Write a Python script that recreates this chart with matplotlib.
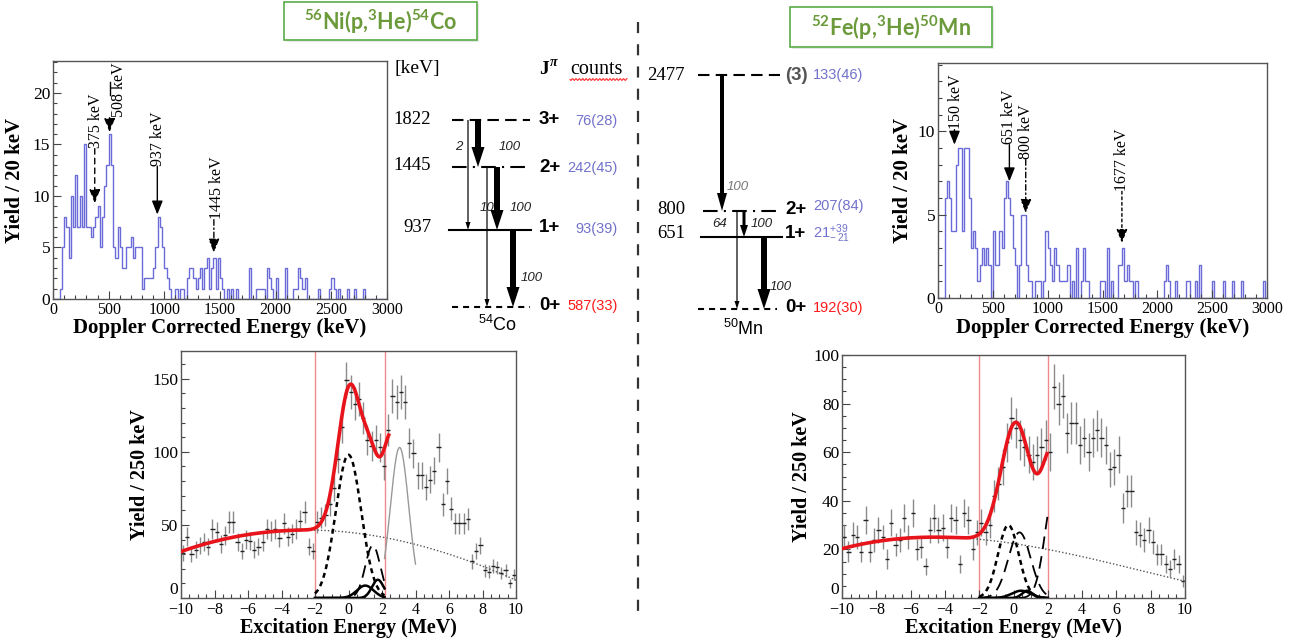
import numpy as np
import matplotlib
matplotlib.use("Agg")
import matplotlib.pyplot as plt
from matplotlib.patches import FancyArrow, Rectangle
from matplotlib.ticker import MultipleLocator

# ---------------- data ----------------
GAMMA_BIN_KEV = 20
# 56Ni(p,3He)54Co : Doppler corrected gamma spectrum, 20 keV bins from 0 keV
co_gamma_counts = [
    0, 0, 0, 1, 5, 8, 7, 4, 10, 7,
    12, 7, 10, 7, 15, 7, 7, 6, 7, 8,
    9, 5, 8, 11, 13, 16, 13, 5, 4, 7,
    5, 3, 3, 5, 5, 6, 4, 5, 5, 5,
    1, 2, 2, 2, 2, 3, 5, 8, 7, 5,
    3, 2, 1, 0, 0, 1, 0, 1, 1, 0,
    2, 3, 3, 2, 1, 2, 3, 1, 3, 4,
    1, 3, 4, 1, 4, 2, 1, 0, 1, 0,
    1, 0, 1, 0, 0, 0, 0, 0, 3, 0,
    0, 1, 1, 1, 1, 0, 3, 2, 1, 0,
    2, 0, 0, 0, 3, 0, 0, 0, 1, 1,
    3, 2, 1, 2, 0, 0, 0, 0, 0, 1,
    0, 0, 0, 0, 1, 2, 1, 0, 1, 0,
    0, 0, 1, 0, 0, 1, 0, 0, 0, 1,
    0, 0, 0, 0, 0, 0, 0, 0, 0, 0,
]
# 52Fe(p,3He)50Mn : Doppler corrected gamma spectrum
mn_gamma_counts = [
    0, 0, 0, 6, 7, 6, 4, 4, 8, 9,
    9, 4, 9, 9, 6, 3, 4, 3, 1, 2,
    3, 2, 3, 2, 0, 4, 2, 2, 4, 3,
    6, 7, 6, 5, 3, 2, 0, 2, 5, 5,
    2, 1, 1, 0, 1, 1, 1, 0, 1, 4,
    3, 2, 1, 3, 2, 1, 1, 1, 1, 2,
    0, 1, 0, 3, 0, 1, 3, 1, 1, 0,
    0, 0, 0, 0, 1, 1, 0, 3, 0, 1,
    0, 0, 2, 2, 3, 1, 2, 1, 1, 0,
    1, 0, 0, 0, 0, 0, 0, 0, 0, 0,
    0, 0, 0, 1, 2, 1, 0, 0, 1, 0,
    0, 0, 0, 1, 1, 0, 0, 1, 0, 2,
    0, 0, 0, 0, 0, 1, 0, 0, 0, 0,
    1, 0, 0, 0, 1, 0, 0, 0, 1, 0,
    0, 0, 0, 0, 0, 0, 0, 0, 1, 0,
]
co_gamma_lines = [375, 508, 937, 1445]
co_gamma_labels = ["375 keV", "508 keV", "937 keV", "1445 keV"]
mn_gamma_lines = [150, 651, 800, 1677]
mn_gamma_labels = ["150 keV", "651 keV", "800 keV", "1677 keV"]

# Excitation energy spectra, 250 keV bins from -10 MeV to +10 MeV
EX_BIN_MEV = 0.25
co_ex_counts = [
    31, 42, 30, 33, 36, 38, 35, 47, 45, 37,
    43, 52, 52, 38, 32, 40, 39, 33, 35, 38,
    47, 46, 47, 41, 51, 42, 44, 47, 53, 59,
    35, 32, 52, 55, 57, 64, 75, 95, 117, 149,
    141, 133, 136, 123, 108, 104, 108, 103, 90, 115,
    138, 134, 141, 134, 106, 99, 84, 84, 76, 81,
    87, 103, 64, 80, 61, 51, 51, 51, 54, 25,
    32, 36, 19, 18, 22, 21, 17, 19, 10, 16,
]
mn_ex_counts = [
    25, 19, 26, 25, 19, 32, 19, 24, 28, 25,
    16, 31, 22, 24, 33, 25, 35, 20, 21, 13,
    28, 33, 28, 29, 21, 33, 32, 14, 35, 32,
    20, 27, 31, 27, 30, 42, 47, 54, 64, 74,
    70, 65, 62, 59, 56, 59, 62, 65, 60, 87,
    80, 83, 68, 72, 72, 63, 66, 60, 66, 69,
    66, 63, 53, 54, 59, 37, 44, 44, 27, 26,
    24, 28, 23, 18, 18, 14, 12, 16, 14, 7,
]
# fit model: background knots (MeV, counts)
co_bg_knots_x = [-10, -8, -6, -4, -2, 0, 2, 4, 6, 8, 10]
co_bg_knots_y = [32, 38.5, 43, 46, 47, 45.5, 41, 36, 30.5, 22, 12]
mn_bg_knots_x = [-10, -8, -6, -4, -2, 0, 2, 4, 6, 8, 10]
mn_bg_knots_y = [20.5, 23, 24.5, 25, 24.5, 22.5, 20, 17, 13.5, 10.3, 7]
# gaussian terms (centre MeV, amplitude, sigma MeV)
co_total_peaks = [(0.1, 100, 0.72), (1.4, 40, 0.5), (2.6, 70, 0.5)]
mn_total_peaks = [(0.15, 50, 0.86), (2.3, 40, 0.6)]
co_components = [("short", 0.0, 98, 0.76), ("long", 1.45, 36, 0.45),
                 ("solid", 1.0, 8.5, 0.5), ("solid", 1.75, 12.5, 0.35)]
co_gray_peak = (3.05, 103, 0.55)
mn_components = [("short", -0.3, 30, 0.6), ("long", 0.35, 27, 0.65),
                 ("long", 2.4, 45, 0.55), ("solid", 0.45, 3.0, 0.55),
                 ("solid", 0.8, 3.0, 0.3)]

# Level schemes
co_levels = [1822, 1445, 937, 0]
co_spins = ["3+", "2+", "1+", "0+"]
co_counts = ["76(28)", "242(45)", "93(39)", "587(33)"]
co_transitions = [(1822, 1445, "100"), (1822, 937, "2"), (1445, 937, "100"),
                  (1445, 0, "10"), (937, 0, "100")]
mn_levels = [2477, 800, 651, 0]
mn_spins = ["(3)", "2+", "1+", "0+"]
mn_counts = ["133(46)", "207(84)", r"$\mathregular{21^{+39}_{-\,21}}$", "192(30)"]
mn_transitions = [(2477, 800, "100"), (800, 651, "100"), (800, 0, "64"), (651, 0, "100")]

# ---------------- figure ----------------
W, H = 1294, 643
plt.rcParams["font.family"] = ["Liberation Serif", "DejaVu Serif"]
SANS = ["Liberation Sans", "DejaVu Sans"]
fig = plt.figure(figsize=(W / 100, H / 100), dpi=100)
fig.patch.set_facecolor("white")


def add_ax(x0, y0, x1, y1):
    return fig.add_axes([x0 / W, 1 - y1 / H, (x1 - x0) / W, (y1 - y0) / H])


def style(ax, xmaj, xmin, ymaj, ymin, xpad):
    for s in ax.spines.values():
        s.set_color("#555555")
        s.set_linewidth(1.0)
    ax.xaxis.set_major_locator(MultipleLocator(xmaj))
    ax.xaxis.set_minor_locator(MultipleLocator(xmin))
    ax.yaxis.set_major_locator(MultipleLocator(ymaj))
    ax.yaxis.set_minor_locator(MultipleLocator(ymin))
    ax.tick_params(which="both", direction="in", top=False, right=False,
                   color="#444444", width=0.8)
    ax.tick_params(which="major", length=6)
    ax.tick_params(which="minor", length=3)
    ax.tick_params(axis="x", labelsize=11.5, pad=xpad)
    ax.tick_params(axis="y", labelsize=12.5, pad=2)


def gauss(x, c, a, s):
    return a * np.exp(-0.5 * ((x - c) / s) ** 2)


def gamma_panel(box, counts, lines, labels, ymax, layout, headscale):
    ax = add_ax(*box)
    edges = np.arange(len(counts) + 1) * GAMMA_BIN_KEV
    ax.stairs(counts, edges, color="#6a6ad8", lw=1.0, baseline=0)
    ax.set_xlim(0, 3000)
    ax.set_ylim(0, ymax)
    style(ax, 500, 100, 5, 1, 2.5)
    ax.set_ylabel("Yield / 20 keV", fontsize=15, fontweight="bold")
    ax.set_xlabel("Doppler Corrected Energy (keV)", fontsize=15, fontweight="bold")
    for e, lab, (tip, top, ls, lx) in zip(lines, labels, layout):
        ax.annotate("", xy=(e, tip), xytext=(e, top),
                    arrowprops=dict(arrowstyle="-|>,head_length=0.55,head_width=0.22",
                                    mutation_scale=15, color="k", lw=1.0,
                                    linestyle=ls, shrinkA=0, shrinkB=0))
        ax.text(lx, top + 0.05 * headscale, lab, rotation=90, ha="center",
                va="bottom", fontsize=11.5)
    return ax


# (tip, shaft top, linestyle, label x)
co_ann = [(9.3, 14.6, (0, (4, 3)), 385), (16.2, 17.6, (0, (4, 3)), 590),
          (8.2, 12.9, "-", 947), (4.5, 7.7, (0, (4, 2, 1, 2)), 1470)]
mn_ann = [(9.2, 10.1, "-", 167), (7.0, 9.2, "-", 650),
          (5.1, 8.3, (0, (4, 2, 1, 2)), 805), (3.3, 6.4, (0, (2, 2)), 1677)]

ax1 = gamma_panel((53, 61, 387, 299), co_gamma_counts, co_gamma_lines,
                  co_gamma_labels, 23.1, co_ann, 1)
ax1.plot([508, 508], [19.8, 21.1], color="k", lw=1.0)
ax1.yaxis.set_label_coords(-0.084, 0.5)
ax1.xaxis.set_label_coords(0.5, -0.08)
ax2 = gamma_panel((938, 63, 1267, 298), mn_gamma_counts, mn_gamma_lines,
                  mn_gamma_labels, 14.1, mn_ann, 0.6)
ax2.yaxis.set_label_coords(-0.076, 0.5)
ax2.xaxis.set_label_coords(0.5, -0.083)


def ex_panel(box, counts, bgx, bgy, total, trange, comps, window, ymax, ymaj, ymin):
    ax = add_ax(*box)
    counts = np.asarray(counts, float)
    centers = -10 + EX_BIN_MEV * (np.arange(len(counts)) + 0.5)
    ax.errorbar(centers, counts, yerr=np.sqrt(counts), fmt="none",
                ecolor="#8a8a8a", elinewidth=1.0, zorder=2)
    ax.errorbar(centers, counts, xerr=EX_BIN_MEV / 2, fmt="none",
                ecolor="#222222", elinewidth=1.0, zorder=2)
    coef = np.polyfit(bgx, bgy, 3)
    xx = np.linspace(-10, 10, 600)
    ax.plot(xx, np.polyval(coef, xx), color="#555555", lw=1.0,
            linestyle=(0, (1, 1.5)), zorder=3)
    xt = np.linspace(trange[0], trange[1], 600)
    yt = np.polyval(coef, xt) + sum(gauss(xt, *p) for p in total)
    xc = np.linspace(window[0], window[1], 300)
    for kind, c, a, s in comps:
        if kind == "short":
            ax.plot(xc, gauss(xc, c, a, s), color="k", lw=1.8,
                    linestyle=(0, (2, 1.6)), zorder=4)
        elif kind == "long":
            ax.plot(xc, gauss(xc, c, a, s), color="k", lw=1.3,
                    linestyle=(0, (7, 4)), zorder=4)
        else:
            ax.plot(xc, gauss(xc, c, a, s), color="k", lw=1.8, zorder=4)
    ax.plot(xt, yt, color="#e8141b", lw=2.6, zorder=5)
    for w in window:
        ax.axvline(w, color="#f08a8a", lw=1.0, zorder=1)
    ax.set_xlim(-10, 10)
    ax.set_ylim(0, ymax)
    style(ax, 2, 0.5, ymaj, ymin, 3)
    ax.set_yticks(np.arange(0, ymax + 0.01, ymaj))
    ax.yaxis.get_major_ticks()[0].label1.set_verticalalignment("bottom")
    ax.set_ylabel("Yield / 250 keV", fontsize=14.5, fontweight="bold")
    ax.set_xlabel("Excitation Energy (MeV)", fontsize=14.5, fontweight="bold")
    return ax


ax3 = ex_panel((181, 351, 516, 598), co_ex_counts, co_bg_knots_x, co_bg_knots_y,
               co_total_peaks, (-10, 2.4), co_components, (-2, 2.15), 169, 50, 10)
xg = np.linspace(2.15, 4.0, 200)
ax3.plot(xg, gauss(xg, *co_gray_peak), color="#999999", lw=1.0, zorder=4)
ax3.yaxis.set_label_coords(-0.093, 0.5)
ax3.xaxis.set_label_coords(0.5, -0.08)
ax4 = ex_panel((842, 355, 1185, 598), mn_ex_counts, mn_bg_knots_x, mn_bg_knots_y,
               mn_total_peaks, (-10, 1.95), mn_components, (-2, 2.0), 100, 20, 5)
ax4.yaxis.set_label_coords(-0.087, 0.5)
ax4.xaxis.set_label_coords(0.5, -0.081)

# ---------------- overlay: titles, level schemes, divider ----------------
ov = fig.add_axes([0, 0, 1, 1])
ov.set_xlim(0, W)
ov.set_ylim(H, 0)
ov.set_axis_off()
ov.patch.set_alpha(0)

TITLE_GREEN = "#6b9a3b"
for (x0, y0, w, h), txt in [((284, 2, 193, 38), r"$\mathregular{^{56}Ni(p{,}^{3}He)^{54}Co}$"),
                            ((790, 7, 202, 40), r"$\mathregular{^{52}Fe(p{,}^{3}He)^{50}Mn}$")]:
    ov.add_patch(Rectangle((x0 + 2, y0 + 2), w, h, facecolor="#e8e8e8",
                           edgecolor="none", zorder=1))
    ov.add_patch(Rectangle((x0, y0), w, h, facecolor="white",
                           edgecolor="#5aac48", lw=1.2, zorder=2))
    ov.text(x0 + w / 2, y0 + h / 2 + 1, txt, ha="center", va="center", fontsize=15.5,
            fontweight="bold", family=["Lato", "Liberation Sans", "DejaVu Sans"],
            color=TITLE_GREEN, zorder=3)

ov.plot([638, 638], [22, 622], color="#333333", lw=1.6, dashes=(5, 5))

# layout of the level schemes (pixel positions)
ARROW = {"thick": (6, 13, 20), "medium": (3, 8, 12), "thin": (1.2, 5, 8),
         "heavy": (4, 10, 18)}
LS = {"long": (0, (5.5, 3)), "dashdot": (0, (7, 3, 1, 3)), "solid": "-",
      "short": (0, (2.9, 2.4))}


def level_scheme(levels, spins, counts, transitions, lay):
    for i, E in enumerate(levels):
        y = lay["y"][i]
        x0, x1 = lay["x"][i]
        ov.plot([x0, x1], [y, y], color="k", lw=1.5, linestyle=LS[lay["ls"][i]])
        if E > 0:
            ov.text(lay["ex"], lay["ey"][i], f"{E}", ha="right", va="center",
                    fontsize=13.5)
        ov.text(lay["sx"], lay["sy"][i], spins[i], ha="left", va="center",
                fontsize=13.5, fontweight="bold", family=SANS,
                color=lay["scol"][i])
        ov.text(lay["cx"], lay["cy"][i], counts[i], ha=lay["cha"], va="center",
                fontsize=10.5, family=SANS, color=lay["ccol"][i])
    for j, (a, b, lab) in enumerate(transitions):
        ya = lay["y"][levels.index(a)]
        yb = lay["y"][levels.index(b)]
        x = lay["tx"][j]
        w, hw, hl = ARROW[lay["tk"][j]]
        ov.add_patch(FancyArrow(x, ya, 0, yb - ya, width=w, head_width=hw,
                                head_length=hl, length_includes_head=True,
                                color="k", lw=0, zorder=4))
        lx, ly = lay["tl"][j]
        ov.text(lx, ly, lab, ha="center", va="center", fontsize=9.5,
                style="italic", family=SANS, color=lay["tcol"][j])


BLUE = "#7272cc"
co_lay = dict(y=[120, 167, 230, 307], x=[(452, 530), (452, 530), (449, 531), (452, 530)],
              ls=["long", "dashdot", "solid", "short"], ex=431, ey=[120, 166, 227, 307],
              sx=539, sy=[120, 167, 228, 306], scol=["k"] * 4,
              cx=618, cy=[121, 168, 229, 306], cha="right",
              ccol=[BLUE, BLUE, BLUE, "#ff1a1a"],
              tx=[478, 468, 497, 487, 513], tk=["thick", "thin", "thick", "thin", "thick"],
              tl=[(510, 147), (459, 147), (521, 208), (487, 208), (532, 278)],
              tcol=["#222222"] * 5)
level_scheme(co_levels, co_spins, co_counts, co_transitions, co_lay)

mn_lay = dict(y=[75, 211, 237, 309], x=[(698, 780), (703, 778), (701, 782), (698, 777)],
              ls=["long", "dashdot", "solid", "short"], ex=685, ey=[76, 210, 233, 309],
              sx=785, sy=[75, 210, 234, 308], scol=["#555555", "k", "k", "k"],
              cx=813, cy=[75, 206, 234, 308], cha="left",
              ccol=[BLUE, BLUE, BLUE, "#ff1a1a"],
              tx=[722, 744, 737, 764], tk=["heavy", "medium", "thin", "thick"],
              tl=[(738, 187), (762, 224), (720, 224), (781, 287)],
              tcol=["#777777", "#222222", "#222222", "#222222"])
level_scheme(mn_levels, mn_spins, mn_counts, mn_transitions, mn_lay)

# headers
ov.text(395, 69, "[keV]", ha="left", va="center", fontsize=14)
ov.text(539, 69, "J", ha="left", va="center", fontsize=14, fontweight="bold")
ov.text(550, 62, "\u03c0", ha="left", va="center", fontsize=10, fontweight="bold",
        style="italic")
ov.text(570, 69, "counts", ha="left", va="center", fontsize=14.5)
sx = np.linspace(570, 627, 300)
ov.plot(sx, 79.5 + 0.9 * np.sin((sx - 570) / 3.4 * 2 * np.pi), color="#ff3030", lw=0.8)
ov.text(497, 325, r"$\mathregular{^{54}Co}$", ha="center", va="center",
        fontsize=13, family=SANS)
ov.text(743, 329, r"$\mathregular{^{50}Mn}$", ha="center", va="center",
        fontsize=13, family=SANS)

fig.savefig("out.png", dpi=100, facecolor="white")
